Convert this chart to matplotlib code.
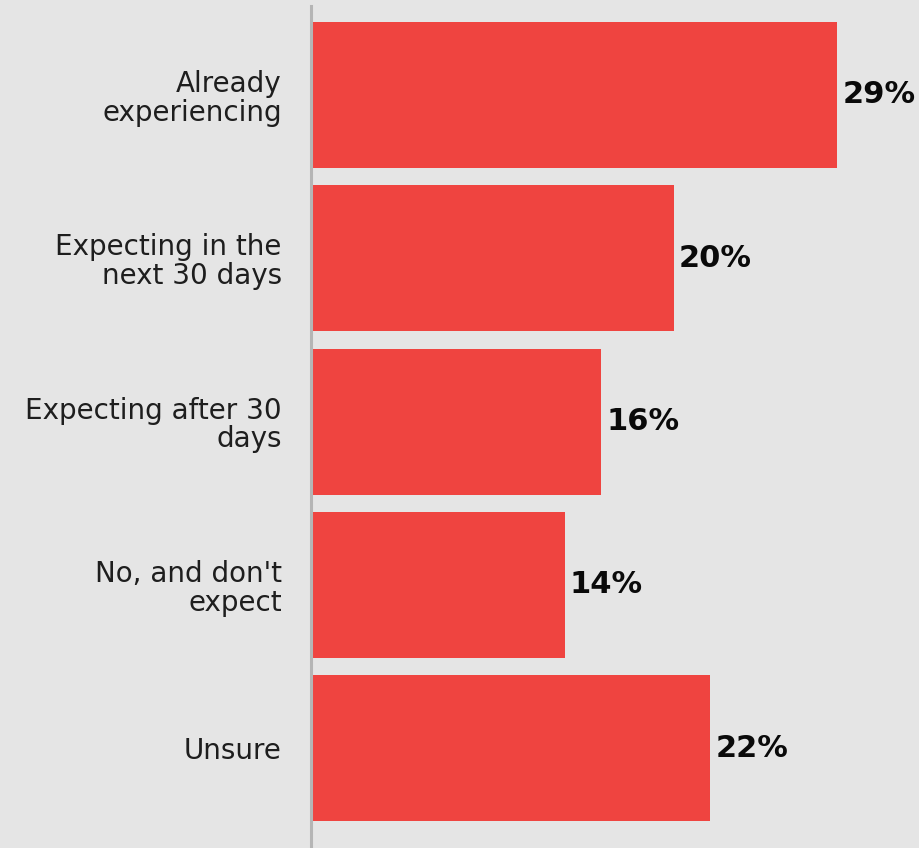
import matplotlib
matplotlib.use("Agg")
import matplotlib.pyplot as plt

categories = ["Already\nexperiencing", "Expecting in the\nnext 30 days",
              "Expecting after 30\ndays", "No, and don't\nexpect", "Unsure"]
values = [29, 20, 16, 14, 22]
value_labels = ["29%", "20%", "16%", "14%", "22%"]

BG = "#e5e5e5"
RED = "#ef4440"

W, H = 920, 848
fig = plt.figure(figsize=(W / 100, H / 100), dpi=100, facecolor=BG)
ax_left = 311 / W
ax = fig.add_axes([ax_left, 0, 1 - ax_left, 842 / H], facecolor=BG)

y = list(range(len(categories)))
ax.barh(y, values, height=0.894, color=RED)
ax.set_xlim(0, 609 / 18.15)
ax.set_ylim(4.612, -0.545)

for yi, v, lab in zip(y, values, value_labels):
    ax.annotate(lab, (v, yi), xytext=(3.5, 0), textcoords="offset points",
                ha="left", va="center", fontsize=22, fontweight="bold",
                family="DejaVu Sans", color="#0a0a0a")

ax.set_yticks(y)
ax.set_yticklabels(categories, fontsize=20, family="DejaVu Sans",
                   color="#1e1e1e", linespacing=1.04)
ax.tick_params(axis="y", length=0, pad=21)
ax.set_xticks([])
for s in ["top", "right", "bottom"]:
    ax.spines[s].set_visible(False)
ax.spines["left"].set_color("#b5b5b5")
ax.spines["left"].set_linewidth(2.2)

fig.savefig("out.png", dpi=100, facecolor=BG)
